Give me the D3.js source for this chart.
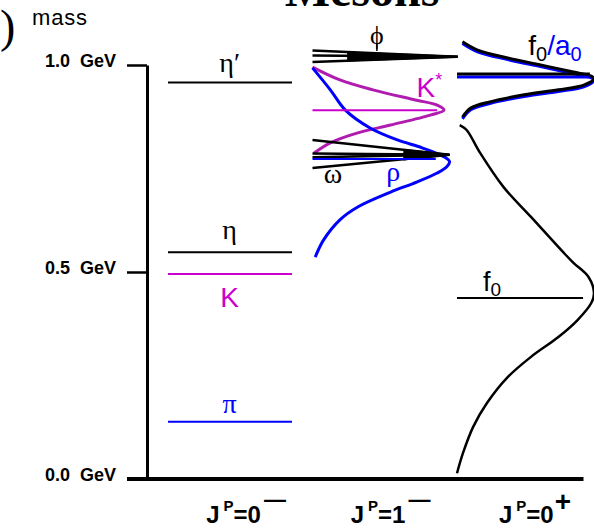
<!DOCTYPE html>
<html><head><meta charset="utf-8">
<script src="https://cdn.jsdelivr.net/npm/d3@7"></script>
<style>
html,body{margin:0;padding:0;background:#fff;}
svg{display:block;}
</style></head><body>
<script>
// Light meson spectrum grouped by spin-parity J^P

const columns = ["0-", "1-", "0+"];
const tickValues = [0, 0.5, 1.0];
const tickUnit = "GeV";

// J^P = 0^- : narrow pseudoscalar levels, mass in GeV
const pseudoNames = ["η′", "η", "K", "π"];
const pseudoMasses = [0.958, 0.548, 0.495, 0.138];

// J^P = 1^- : line shapes as [mass (GeV), relative intensity]
const rhoShape = [[0.536, 0.02], [0.577, 0.08], [0.626, 0.20], [0.657, 0.33], [0.693, 0.57],
  [0.717, 0.76], [0.739, 0.91], [0.754, 0.98], [0.767, 1.00], [0.780, 0.95], [0.800, 0.80],
  [0.819, 0.62], [0.848, 0.42], [0.891, 0.24], [0.940, 0.13], [0.993, 0.00]];
const kstarShape = [[0.995, 0.00], [0.964, 0.20], [0.940, 0.44], [0.915, 0.76], [0.903, 0.91],
  [0.891, 0.96], [0.879, 0.86], [0.855, 0.57], [0.836, 0.33], [0.812, 0.13], [0.787, 0.01]];
const omegaOuter = [[0.819, 0], [0.783, 1.0], [0.751, 0]];
const omegaInner = [[0.786, 0], [0.783, 1.0], [0.777, 0]];
const omegaCore = [[0.795, 0.67], [0.783, 1.0], [0.772, 0.67]];
const phiOuter = [[1.035, 0], [1.020, 1.06], [1.007, 0]];
const phiInner = [[1.023, 0], [1.020, 1.06]];
const phiCore = [[1.030, 0.26], [1.020, 1.06], [1.011, 0.26]];
const vectorNames = ["ρ", "K*"];
const vectorMasses = [0.773, 0.891];
const vectorReach = [0.90, 0.91];

// J^P = 0^+ : scalar line shapes
const f0BroadShape = [[0.014, 0.00], [0.063, 0.044], [0.126, 0.118], [0.184, 0.22], [0.246, 0.37],
  [0.295, 0.54], [0.343, 0.74], [0.384, 0.88], [0.425, 0.98], [0.449, 1.00], [0.488, 0.96],
  [0.522, 0.85], [0.546, 0.78], [0.633, 0.54], [0.705, 0.34], [0.787, 0.17], [0.843, 0.07],
  [0.855, 0.02]];
const f0NarrowShape = [[1.056, 0.04], [1.036, 0.15], [1.017, 0.37], [1.000, 0.61], [0.983, 0.85],
  [0.973, 0.98], [0.967, 1.00], [0.952, 0.93], [0.940, 0.74], [0.928, 0.49], [0.911, 0.24],
  [0.896, 0.10], [0.874, 0.04]];
const a0NarrowShape = [[1.052, 0.04], [1.032, 0.15], [1.013, 0.37], [0.996, 0.61], [0.979, 0.85],
  [0.969, 0.98], [0.963, 1.00], [0.948, 0.93], [0.936, 0.74], [0.924, 0.49], [0.907, 0.24],
  [0.892, 0.10], [0.870, 0.04]];
const scalarNames = ["f0(500)", "f0(980)", "a0(980)"];
const scalarMasses = [0.437, 0.978, 0.971];
const scalarReach = [0.92, 0.97, 0.97];

const BLUE = "#0000ff", MAG = "#cc00cc", MAG_DARK = "#b01cb0", BLACK = "#000";
const W = 594, H = 529;

const svg = d3.select("body").append("svg").attr("width", W).attr("height", H);

const y = d3.scaleLinear().domain([0, 1]).range([479, 65]);
const x = d3.scaleBand().domain(columns).range([168, 601.5]);
const w = d3.scaleLinear().domain([0, 1]).range([0, 137]);
const axisX = 147;

// heading (runs off the top edge) and a stray bracket
svg.append("text").attr("x", 362).attr("y", 6).attr("text-anchor", "middle")
  .attr("font-family", "Liberation Serif").attr("font-weight", "bold").attr("font-size", 48)
  .text("Mesons");
svg.append("text").attr("x", 0).attr("y", 42)
  .attr("font-family", "Liberation Serif").attr("font-size", 46).text(")");
svg.append("text").attr("x", 32).attr("y", 25)
  .attr("font-family", "Liberation Sans").attr("font-size", 22).attr("letter-spacing", 0.8)
  .text("mass");

// mass axis
const yAxis = d3.axisLeft(y).tickValues(tickValues).tickSize(20).tickSizeOuter(0).tickPadding(11)
  .tickFormat(d => d3.format(".1f")(d) + "\u00a0\u00a0" + tickUnit);
const ax = svg.append("g").attr("transform", `translate(${axisX},0)`).call(yAxis);
ax.select(".domain").attr("stroke-width", 3).attr("stroke", BLACK);
ax.selectAll(".tick line").attr("stroke-width", 2.5).attr("stroke", BLACK);
ax.selectAll(".tick text").attr("font-family", "Liberation Sans").attr("font-weight", "bold")
  .attr("font-size", 18).attr("fill", BLACK).attr("dy", "0.1em");

// baseline
svg.append("line").attr("x1", axisX - 20).attr("x2", x.range()[1] - 18)
  .attr("y1", y(0)).attr("y2", y(0)).attr("stroke", BLACK).attr("stroke-width", 4);

// ---- 0^- column ----
const c0 = x("0-");
const pseudoColor = { "η′": BLACK, "η": BLACK, "K": MAG, "π": BLUE };
const pseudoLabelDy = { "η′": -10, "η": -13, "K": 33, "π": -9 };
const pseudoFont = { "η′": "Liberation Serif", "η": "Liberation Serif", "K": "Liberation Sans", "π": "Liberation Serif" };
const g0 = svg.append("g");
pseudoNames.forEach((n, i) => {
  g0.append("line").attr("x1", c0).attr("x2", c0 + w(0.905))
    .attr("y1", y(pseudoMasses[i])).attr("y2", y(pseudoMasses[i]))
    .attr("stroke", pseudoColor[n]).attr("stroke-width", 2);
  g0.append("text").attr("x", c0 + w(0.45)).attr("y", y(pseudoMasses[i]) + pseudoLabelDy[n])
    .attr("text-anchor", "middle").attr("font-family", pseudoFont[n])
    .attr("font-size", 28).attr("fill", pseudoColor[n]).text(n);
});

// ---- 1^- column ----
const c1 = x("1-");
const line1 = d3.line().x(d => c1 + w(d[1])).y(d => y(d[0]));
const smooth1 = d3.line().x(d => c1 + w(d[1])).y(d => y(d[0])).curve(d3.curveCatmullRom.alpha(0.5));
const g1 = svg.append("g").attr("fill", "none");

g1.append("path").attr("d", smooth1(kstarShape)).attr("stroke", MAG_DARK).attr("stroke-width", 3);
g1.append("path").attr("d", smooth1(rhoShape)).attr("stroke", BLUE).attr("stroke-width", 3);
[omegaOuter, omegaInner, phiOuter, phiInner].forEach(s =>
  g1.append("path").attr("d", line1(s)).attr("stroke", BLACK).attr("stroke-width", 2.5));
[omegaCore, phiCore].forEach(s =>
  g1.append("path").attr("d", line1(s) + "Z").attr("fill", BLACK).attr("stroke", BLACK).attr("stroke-width", 2));
vectorNames.forEach((n, i) => {
  g1.append("line").attr("x1", c1).attr("x2", c1 + w(vectorReach[i]))
    .attr("y1", y(vectorMasses[i])).attr("y2", y(vectorMasses[i]))
    .attr("stroke", n === "ρ" ? BLUE : MAG).attr("stroke-width", 2);
});

// labels for the vector states
g1.append("line").attr("x1", c1 + w(0.47)).attr("x2", c1 + w(0.47))
  .attr("y1", y(1.034)).attr("y2", y(1.034) - 8).attr("stroke", BLACK).attr("stroke-width", 1.5);
svg.append("text").attr("x", c1 + w(0.47)).attr("y", 44).attr("text-anchor", "middle")
  .attr("font-family", "Liberation Serif").attr("font-size", 26).text("ϕ");
svg.append("text").attr("x", c1 + w(0.15)).attr("y", 183).attr("text-anchor", "middle")
  .attr("font-family", "Liberation Serif").attr("font-size", 28).text("ω");
svg.append("text").attr("x", c1 + w(0.59)).attr("y", 181).attr("text-anchor", "middle")
  .attr("font-family", "Liberation Serif").attr("font-size", 28).attr("fill", BLUE).text("ρ");
const ks = svg.append("text").attr("x", c1 + w(0.76)).attr("y", 97)
  .attr("font-family", "Liberation Sans").attr("font-size", 28).attr("fill", MAG);
ks.append("tspan").text("K");
ks.append("tspan").attr("font-size", 18).attr("dy", -11).text("*");

// ---- 0^+ column ----
const c2 = x("0+");
const smooth2 = d3.line().x(d => c2 + w(d[1])).y(d => y(d[0])).curve(d3.curveCatmullRom.alpha(0.5));
const g2 = svg.append("g").attr("fill", "none");
g2.append("path").attr("d", smooth2(f0BroadShape)).attr("stroke", BLACK).attr("stroke-width", 2.5);
g2.append("path").attr("d", smooth2(a0NarrowShape)).attr("stroke", BLUE).attr("stroke-width", 3);
g2.append("path").attr("d", smooth2(f0NarrowShape)).attr("stroke", BLACK).attr("stroke-width", 3);
[2, 1, 0].forEach(i => {
  g2.append("line").attr("x1", c2).attr("x2", c2 + w(scalarReach[i]))
    .attr("y1", y(scalarMasses[i])).attr("y2", y(scalarMasses[i]))
    .attr("stroke", scalarNames[i].startsWith("a0") ? BLUE : BLACK)
    .attr("stroke-width", i === 0 ? 2 : 3);
});

const f0lab = svg.append("text").attr("x", c2 + w(0.19)).attr("y", y(scalarMasses[0]) - 7)
  .attr("font-family", "Liberation Sans").attr("font-size", 27);
f0lab.append("tspan").text("f");
f0lab.append("tspan").attr("font-size", 19).attr("dy", 5).text("0");

const fa = svg.append("text").attr("x", c2 + w(0.52)).attr("y", 55)
  .attr("font-family", "Liberation Sans").attr("font-size", 28);
fa.append("tspan").text("f");
fa.append("tspan").attr("font-size", 20).attr("dy", 6).text("0");
fa.append("tspan").attr("dy", -6).attr("fill", BLUE).text("/a");
fa.append("tspan").attr("font-size", 20).attr("dy", 6).attr("fill", BLUE).text("0");

// ---- J^P column captions ----
const jp = { "0-": ["0", "—"], "1-": ["1", "—"], "0+": ["0", "+"] };
columns.forEach(c => {
  const t = svg.append("text").attr("x", x(c) + 78).attr("y", 523).attr("text-anchor", "middle")
    .attr("font-family", "Liberation Sans").attr("font-weight", "bold").attr("font-size", 24);
  t.append("tspan").text("J");
  t.append("tspan").attr("font-size", 15).attr("dy", -12).attr("dx", 4).text("P");
  t.append("tspan").attr("dy", 12).text("=");
  t.append("tspan").text(jp[c][0]);
  const plus = jp[c][1] === "+";
  t.append("tspan").attr("font-size", plus ? 28 : 22).attr("dy", plus ? -12 : -16).attr("dx", plus ? 1 : 3).text(jp[c][1]);
});
</script>
</body></html>
